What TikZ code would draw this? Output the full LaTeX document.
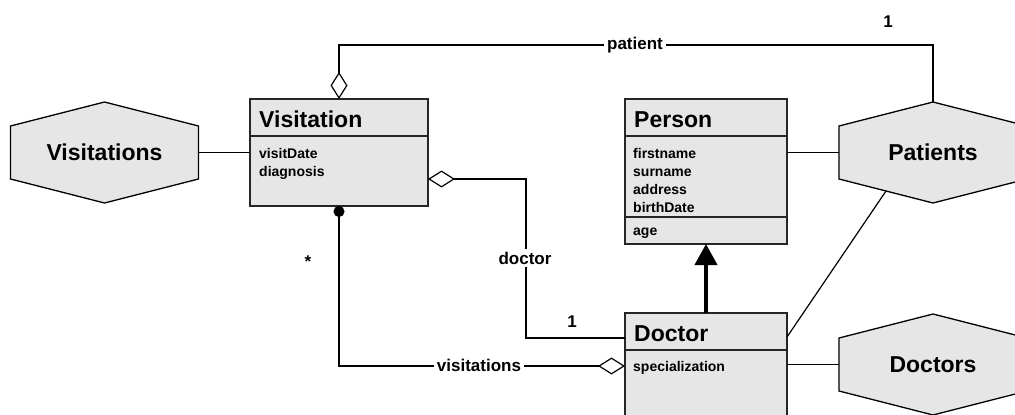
\documentclass[tikz,border=0pt]{standalone}
\usepackage{fontspec}
\setmainfont{Liberation Sans}
\usetikzlibrary{arrows.meta,calc}

\definecolor{boxgray}{RGB}{230,230,230}

\tikzset{
    agg/.tip={Diamond[fill=white, length=27pt, width=17pt]},
    dot/.tip={Circle[length=11pt]},
    gen/.tip={Triangle[length=21pt, width=22pt]},
    classbox/.style={draw=black!85, line width=1.5pt, fill=boxgray, inner sep=0pt, outer sep=0pt, anchor=north west},
    classline/.style={draw=black!85, line width=1.5pt},
    ctitle/.style={font=\fontsize{23}{27}\selectfont\bfseries, inner sep=0pt, anchor=base west},
    cattr/.style={font=\fontsize{14}{17}\selectfont\bfseries, inner sep=0pt, anchor=base west},
    hexshape/.style={draw, line width=1.3pt, fill=boxgray},
    hexlabel/.style={font=\fontsize{23}{27}\selectfont\bfseries, minimum width=188pt, minimum height=101pt, inner sep=0pt, outer sep=0pt},
    rolelabel/.style={font=\fontsize{17}{20}\selectfont\bfseries, fill=white, inner sep=3pt},
    multlabel/.style={font=\fontsize{17}{20}\selectfont\bfseries, inner sep=0pt},
    link/.style={line width=1.2pt},
}

% hexagon: name, centre, text
\newcommand{\hexnode}[3]{%
    \filldraw[hexshape] (#2) ++(0,-50.5) -- ++(94,24) -- ++(0,53) -- ++(-94,24)
        -- ++(-94,-24) -- ++(0,-53) -- cycle;
    \node[hexlabel] (#1) at (#2) {#3};
    \coordinate (#1-ll) at ($(#2)+(-47,38.5)$);
}

\begin{document}
\begin{tikzpicture}[x=1pt, y=-1pt]
    \clip (0,0) rectangle (1015,415);

    % extents
    \hexnode{visitations}{104.5,152.5}{Visitations}
    \hexnode{patients}{933,152.5}{Patients}
    \hexnode{doctors}{933,364.5}{Doctors}

    % classes
    \node[classbox, minimum width=178pt, minimum height=107pt] (visitation) at (250,99) {};
    \node[classbox, minimum width=162pt, minimum height=145pt] (person) at (625,99) {};
    \node[classbox, minimum width=162pt, minimum height=130pt] (doctor) at (625,313) {};

    \foreach \n/\d in {visitation/37, person/37, person/118, doctor/37} {
        \draw[classline] ($(\n.north west)+(0,\d)$) -- ($(\n.north east)+(0,\d)$);
    }
    \foreach \n/\t in {visitation/Visitation, person/Person, doctor/Doctor} {
        \node[ctitle] (\n-title) at ($(\n.north west)+(9,28)$) {\t};
    }
    \foreach \a [count=\i from 0] in {visitDate, diagnosis} {
        \node[cattr] (visitation-a\i) at ($(visitation.north west)+(9,59+18.3*\i)$) {\a};
    }
    \foreach \a [count=\i from 0] in {firstname, surname, address, birthDate} {
        \node[cattr] (person-a\i) at ($(person.north west)+(8,59+18.3*\i)$) {\a};
    }
    \node[cattr] (person-op) at ($(person.north west)+(8,136)$) {age};
    \node[cattr] (doctor-a0) at ($(doctor.north west)+(8,58)$) {specialization};

    % extent links
    \draw[link] (visitations.east) -- (visitation.west);
    \draw[link] (patients.west) -- (patients.west -| person.east);
    \draw[link] (doctors.west) -- (doctors.west -| doctor.east);
    \draw[link] ($(doctor.north east)+(0,24)$) -- (patients-ll);

    % inheritance
    \draw[line width=4pt, -gen] (doctor.north) -- (person.south);

    % associations
    \draw[link, agg-] (visitation.north) -- ++(0,-54) -| (patients.north);
    \node[rolelabel] (patient-role) at (635,45) {patient};
    \node[multlabel] (patient-mult) at (888,22) {1};

    \draw[link, agg-] ($(visitation.north east)+(0,80)$) -- ++(98,0) |- ($(doctor.north west)+(0,25)$);
    \node[rolelabel] (doctor-role) at (525,258) {doctor};
    \node[multlabel] (doctor-mult) at (572,322) {1};

    \draw[link, dot-agg] (visitation.south) |- ($(doctor.north west)+(0,53)$);
    \node[rolelabel] (visitations-role) at (479,365) {visitations};
    \node[multlabel] (visitations-mult) at (308,262) {*};
\end{tikzpicture}
\end{document}
